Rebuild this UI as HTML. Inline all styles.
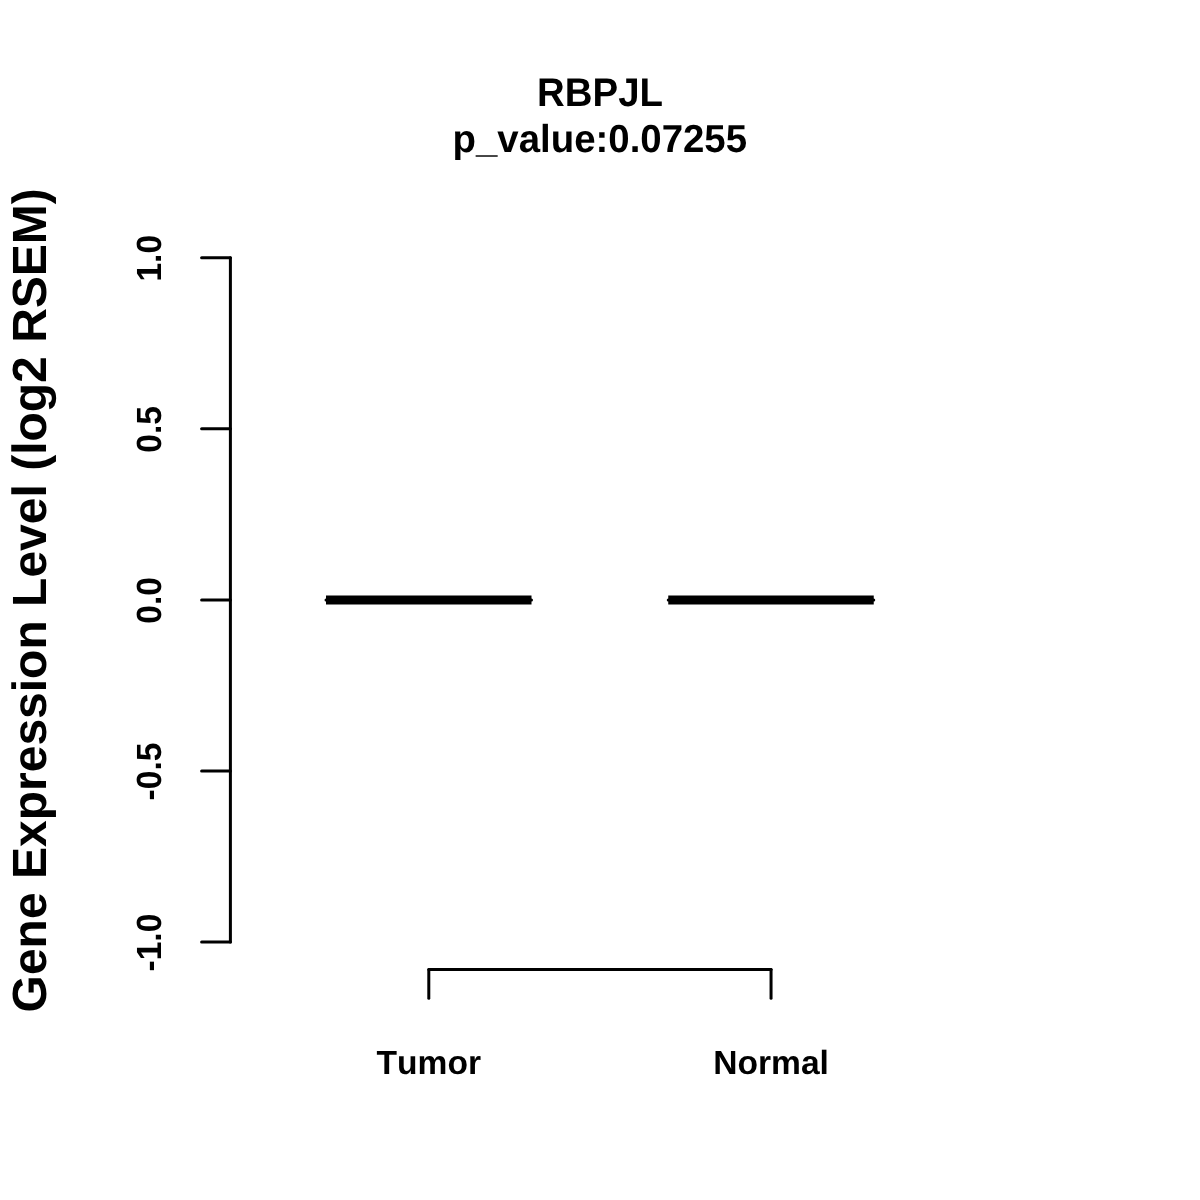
<!DOCTYPE html>
<html>
<head>
<meta charset="utf-8">
<title>RBPJL</title>
<style>
html,body{margin:0;padding:0;background:#fff;}
body{width:1200px;height:1200px;overflow:hidden;}
svg{display:block;}
text{font-family:"Liberation Sans",Arial,Helvetica,sans-serif;font-weight:bold;fill:#000;font-kerning:none;font-feature-settings:"kern" 0,"liga" 0;text-rendering:geometricPrecision;}
</style>
</head>
<body>
<svg width="1200" height="1200" viewBox="0 0 1200 1200">
<rect width="1200" height="1200" fill="#fff"/>
<!-- title -->
<text font-size="38.4" text-anchor="middle" transform="translate(600 105.7) scale(1 1.04)">RBPJL</text>
<text font-size="38.4" text-anchor="middle" transform="translate(599.8 152) scale(1 1.015)">p_value:0.07255</text>
<!-- y axis -->
<g fill="none" stroke="#000" stroke-width="3" stroke-linecap="round" stroke-linejoin="round">
<path d="M230.4 257.75V942.1"/>
<path d="M230.4 257.75H201.6"/>
<path d="M230.4 428.8H201.6"/>
<path d="M230.4 599.9H201.6"/>
<path d="M230.4 771H201.6"/>
<path d="M230.4 942.1H201.6"/>
<!-- x axis -->
<path d="M428.8 969.5H771.05"/>
<path d="M428.8 969.5V998.3"/>
<path d="M771.05 969.5V998.3"/>
<!-- zero-height boxes -->
<path d="M326 599.9H531.5"/>
<path d="M668.25 599.9H873.75"/>
</g>
<!-- medians -->
<g fill="none" stroke="#000" stroke-width="9" stroke-linecap="butt">
<path d="M326 599.9H531.5"/>
<path d="M668.25 599.9H873.75"/>
</g>
<!-- y tick labels -->
<g font-size="33.6" text-anchor="middle">
<text transform="translate(160.8 258.25) rotate(-90) scale(1 1.04)">1.0</text>
<text transform="translate(160.8 429.3) rotate(-90) scale(1 1.04)">0.5</text>
<text transform="translate(160.8 600.4) rotate(-90) scale(1 1.04)">0.0</text>
<text transform="translate(160.8 771.5) rotate(-90) scale(1 1.04)">-0.5</text>
<text transform="translate(160.8 942.6) rotate(-90) scale(1 1.04)">-1.0</text>
</g>
<!-- x labels -->
<g font-size="33.6" text-anchor="middle">
<text x="428.8" y="1073.75">Tumor</text>
<text x="771.05" y="1073.75">Normal</text>
</g>
<!-- y label -->
<text font-size="48" text-anchor="middle" transform="translate(46 600.3) rotate(-90)">Gene Expression Level (log2 RSEM)</text>
</svg>
</body>
</html>
